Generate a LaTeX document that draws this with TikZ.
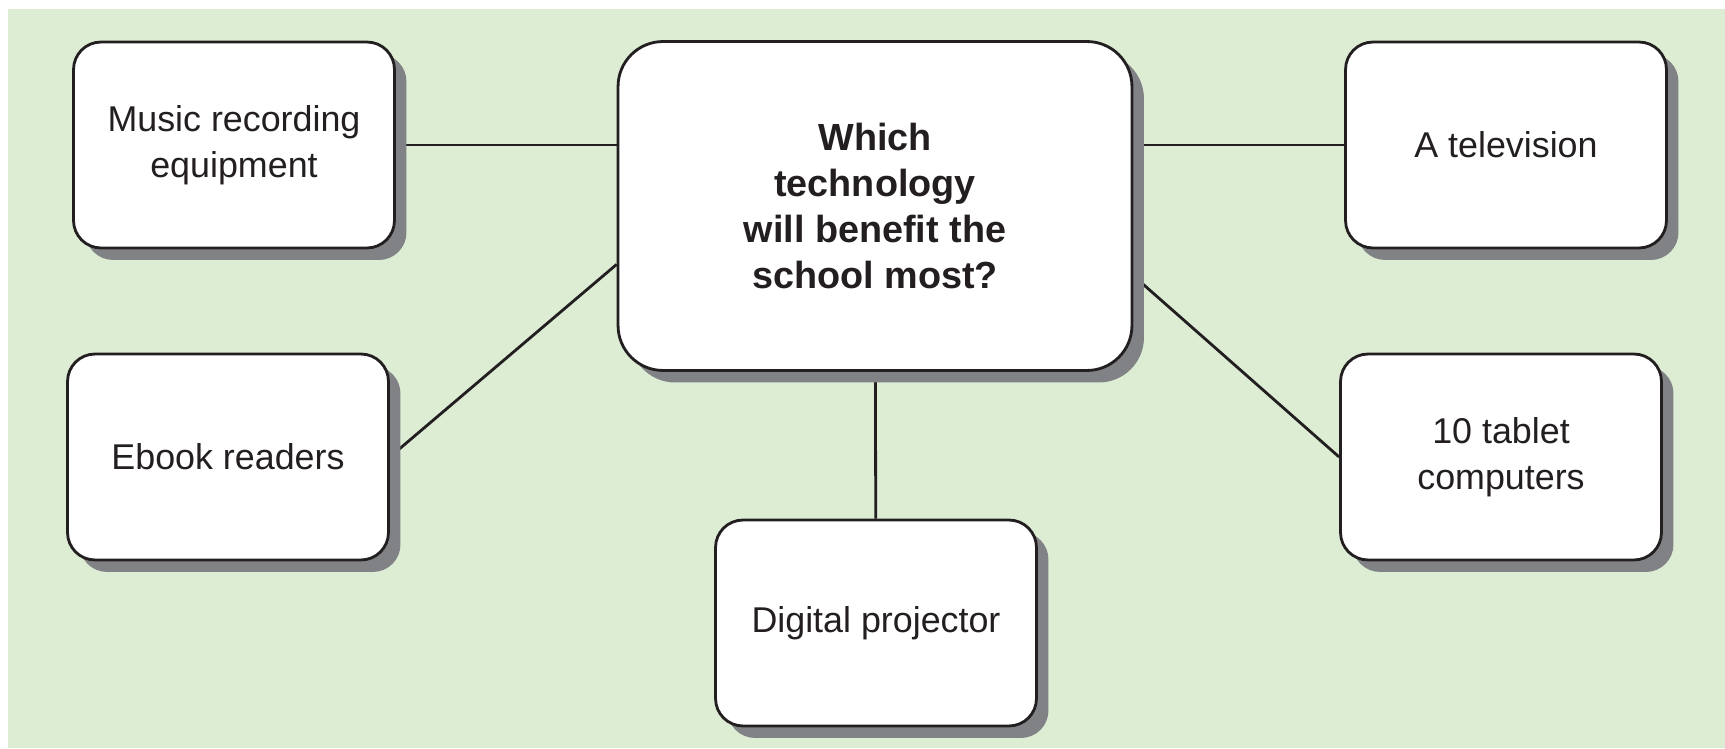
\documentclass[tikz,border=0pt]{standalone}
\usepackage{fontspec}
\setmainfont{Liberation Sans}
\usetikzlibrary{shadows,calc}
\definecolor{bggreen}{RGB}{220,237,212}
\definecolor{shadowgray}{RGB}{128,130,133}
\definecolor{inkdark}{RGB}{35,31,32}
\pgfdeclarelayer{back}
\pgfdeclarelayer{links}
\pgfsetlayers{back,links,main}

\begin{document}
\begin{tikzpicture}[x=0.02cm, y=0.02cm,
  box/.style={draw=inkdark, line width=1.6pt, fill=white, rounded corners=0.55cm,
    minimum width=6.42cm, minimum height=4.12cm, align=center, text=inkdark,
    font=\fontsize{20.4}{26}\selectfont,
    drop shadow={shadow xshift=0.24cm, shadow yshift=-0.24cm, fill=shadowgray, opacity=1}},
  link/.style={draw=inkdark, line width=1.6pt}]

\useasboundingbox (0,0) rectangle (1725,748);
\begin{pgfonlayer}{back}
  \fill[bggreen] (8,0) rectangle (1725,739);
\end{pgfonlayer}

% the question in the middle
\node[box, minimum width=10.28cm, minimum height=6.58cm, rounded corners=0.9cm,
  font=\bfseries\fontsize{21.5}{26.2}\selectfont] (question) at (875,542)
  {Which\\technology\\will benefit the\\school most?};

\node[box] (music)   at (234,603)   {Music recording\\equipment};
\node[box] (tv)      at (1506,603)  {A television};
\node[box] (ebook)   at (228,291)   {Ebook readers};
\node[box] (tablet)  at (1501,291)  {10 tablet\\computers};
\node[box] (digital) at (876,125)   {Digital projector};

\begin{pgfonlayer}{links}
  \draw[link] (music.east) -- (music.east -| question.west);
  \draw[link] (tv.west -| question.east) -- (tv.west);
  \draw[link] (ebook.east) -- ($(question.south west)!0.324!(question.north west)$);
  \draw[link] (tablet.west) -- ($(question.south east)!0.29!(question.north east)$);
  \draw[link] (question) -- (digital);
\end{pgfonlayer}
\end{tikzpicture}
\end{document}
